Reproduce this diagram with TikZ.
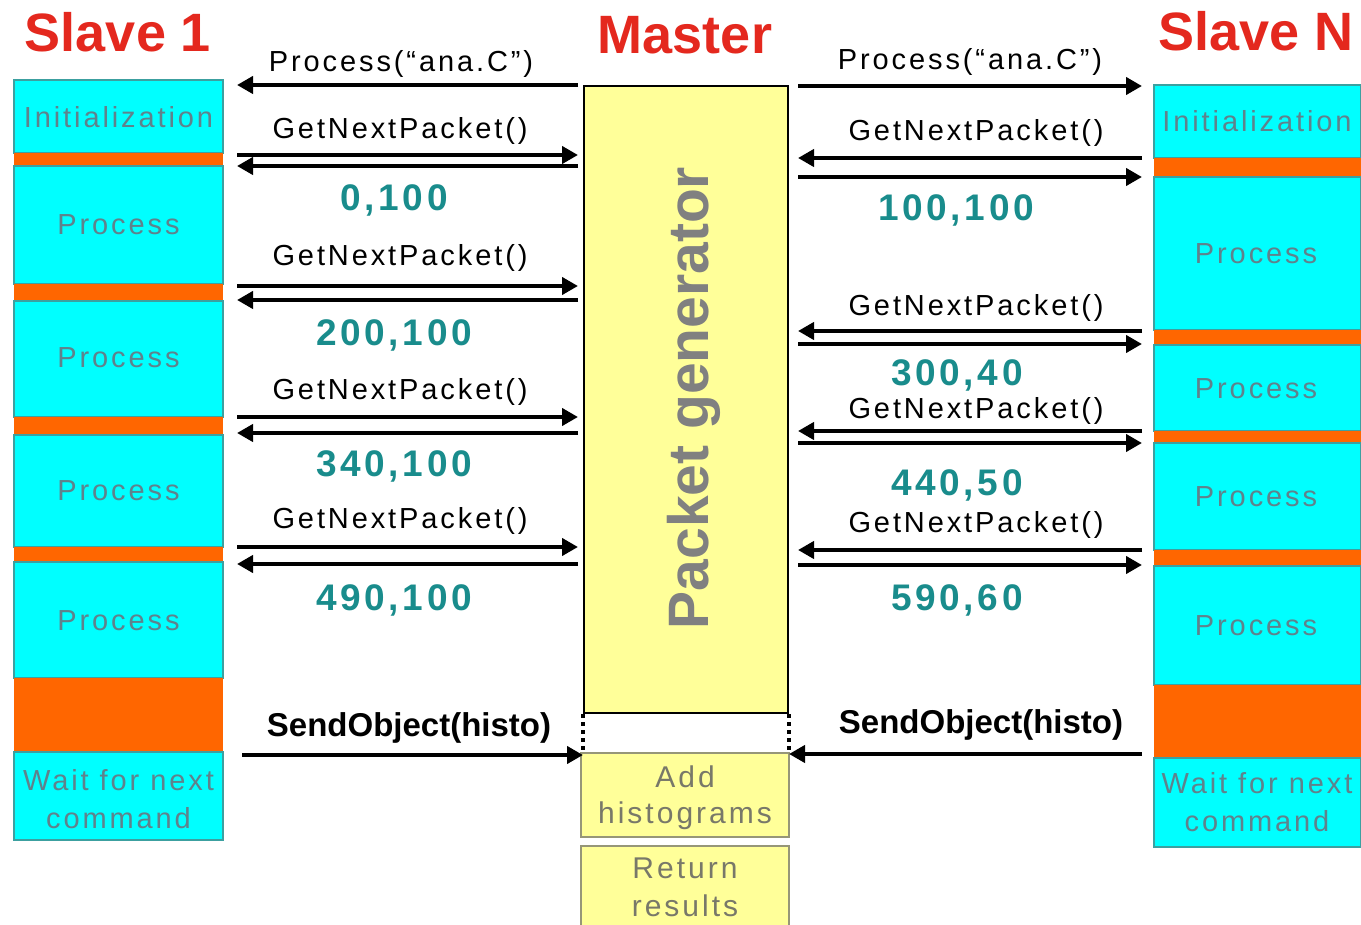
\documentclass[tikz,border=0pt]{standalone}
\usepackage{fontspec}
\setmainfont{Liberation Sans}
\newfontfamily\arrfont[LetterSpace=10]{Liberation Sans}
\newfontfamily\blkfont[LetterSpace=10]{Liberation Sans}
\usetikzlibrary{arrows.meta}
\definecolor{cyanfill}{RGB}{0,255,255}
\definecolor{cyanline}{RGB}{60,160,160}
\definecolor{orangefill}{RGB}{255,102,0}
\definecolor{yellowfill}{RGB}{255,255,153}
\definecolor{titlered}{RGB}{228,40,30}
\definecolor{numteal}{RGB}{25,140,140}
\definecolor{blktext}{RGB}{95,130,140}
\definecolor{pgray}{RGB}{128,128,128}
\definecolor{ygray}{RGB}{120,120,105}
\definecolor{boxline}{RGB}{150,150,120}
\begin{document}
\begin{tikzpicture}[x=0.5pt,y=-0.5pt,
  titlelbl/.style={font=\fontsize{27}{30}\selectfont\bfseries, text=titlered, anchor=base, inner sep=0},
  msg/.style={font=\arrfont\fontsize{14.5}{16}\selectfont, anchor=base, inner sep=0},
  num/.style={font=\blkfont\bfseries\fontsize{18.5}{20}\selectfont, text=numteal, anchor=base, inner sep=0},
  blktxt/.style={font=\blkfont\fontsize{14.5}{19}\selectfont, text=blktext, anchor=base, inner sep=0},
  waittxt/.style={font=\blkfont\fontsize{14.5}{19}\selectfont, text=blktext, align=center, inner sep=0},
  ytxt/.style={font=\blkfont\fontsize{15}{18}\selectfont, text=ygray, align=center, inner sep=0},
  cyanblk/.style={fill=cyanfill, draw=cyanline, line width=0.6pt},
  orangeblk/.style={fill=orangefill},
  arr/.style={line width=2pt, -{Triangle[length=8pt,width=8.5pt]}},
  sendlbl/.style={font=\bfseries\fontsize{16.5}{18}\selectfont, anchor=base, inner sep=0},
  dots/.style={line width=2pt, dash pattern=on 2pt off 2pt},
  ybox/.style={fill=yellowfill, draw=boxline, line width=0.8pt},
]
\useasboundingbox[fill=white] (0,0) rectangle (1361,925);

% titles
\node[titlelbl] (t1) at (118,52) {Slave 1};
\node[titlelbl] (tm) at (685,54) {Master};
\node[titlelbl] (tn) at (1256,51) {Slave N};

% left column (Slave 1)
\draw[cyanblk] (14,80) rectangle (223,153);
\fill[orangeblk] (14,153) rectangle (223,166);
\draw[cyanblk] (14,166) rectangle (223,284);
\fill[orangeblk] (14,284) rectangle (223,301);
\draw[cyanblk] (14,301) rectangle (223,417);
\fill[orangeblk] (14,417) rectangle (223,435);
\draw[cyanblk] (14,435) rectangle (223,547);
\fill[orangeblk] (14,547) rectangle (223,562);
\draw[cyanblk] (14,562) rectangle (223,678);
\fill[orangeblk] (14,678) rectangle (223,752);
\draw[cyanblk] (14,752) rectangle (223,840);
\node[blktxt] (s1init) at (118.5,127.5) {Initialization};
\node[blktxt] (s1p1) at (118.5,234.5) {Process};
\node[blktxt] (s1p2) at (118.5,367.5) {Process};
\node[blktxt] (s1p3) at (118.5,500.5) {Process};
\node[blktxt] (s1p4) at (118.5,630.5) {Process};
\node[waittxt] (s1wait) at (118.5,799) {Wait for next\\command};

% right column (Slave N)
\draw[cyanblk] (1154,85) rectangle (1361,158);
\fill[orangeblk] (1154,158) rectangle (1361,177);
\draw[cyanblk] (1154,177) rectangle (1361,330);
\fill[orangeblk] (1154,330) rectangle (1361,345);
\draw[cyanblk] (1154,345) rectangle (1361,431);
\fill[orangeblk] (1154,431) rectangle (1361,443);
\draw[cyanblk] (1154,443) rectangle (1361,550);
\fill[orangeblk] (1154,550) rectangle (1361,566);
\draw[cyanblk] (1154,566) rectangle (1361,685);
\fill[orangeblk] (1154,685) rectangle (1361,758);
\draw[cyanblk] (1154,758) rectangle (1361,847);
\node[blktxt] (sninit) at (1257,132) {Initialization};
\node[blktxt] (snp1) at (1256,264) {Process};
\node[blktxt] (snp2) at (1256,398.5) {Process};
\node[blktxt] (snp3) at (1256,506.5) {Process};
\node[blktxt] (snp4) at (1256,635.5) {Process};
\node[waittxt] (snwait) at (1257,802) {Wait for next\\command};

% master
\node[draw=black, fill=yellowfill, line width=1pt, minimum width=102pt, minimum height=313.5pt,
      anchor=north west, inner sep=0] (master) at (583,85) {};
\node[font=\bfseries\fontsize{28.5}{30}\selectfont, text=pgray, rotate=90, anchor=base, inner sep=0]
      (pg) at (708,398) {Packet generator};
\draw[dots] (master.south west) -- (master.south west |- 0,752);
\draw[dots] (master.south east) -- (master.south east |- 0,752);

\draw[ybox] (581,753) rectangle (789,837);
\node[ytxt] (addh) at (685,798) {Add\\histograms};
\fill[yellowfill] (581,846) rectangle (789,925);
\draw[boxline, line width=0.8pt] (581,925) -- (581,846) -- (789,846) -- (789,925);
\node[ytxt, font=\blkfont\fontsize{15}{19}\selectfont] (retr) at (685,887) {Return\\results};

% arrow end coordinates
\coordinate (la) at (237,0);
\coordinate (lb) at (578,0);
\coordinate (ra) at (798,0);
\coordinate (rb) at (1142,0);

% left messages
\node[msg] (lproc) at (401,71.5) {Process(“ana.C”)};
\draw[arr] (lb |- 0,85) -- (la |- 0,85);
\node[msg] (lg1) at (400,139) {GetNextPacket()};
\draw[arr] (la |- 0,155) -- (lb |- 0,155);
\draw[arr] (lb |- 0,166) -- (la |- 0,166);
\node[num] (ln1) at (394,211) {0,100};
\node[msg] (lg2) at (400,266) {GetNextPacket()};
\draw[arr] (la |- 0,286) -- (lb |- 0,286);
\draw[arr] (lb |- 0,300) -- (la |- 0,300);
\node[num] (ln2) at (394,346) {200,100};
\node[msg] (lg3) at (400,400) {GetNextPacket()};
\draw[arr] (la |- 0,417) -- (lb |- 0,417);
\draw[arr] (lb |- 0,433) -- (la |- 0,433);
\node[num] (ln3) at (394,476) {340,100};
\node[msg] (lg4) at (400,528) {GetNextPacket()};
\draw[arr] (la |- 0,547) -- (lb |- 0,547);
\draw[arr] (lb |- 0,564) -- (la |- 0,564);
\node[num] (ln4) at (394,610) {490,100};
\node[sendlbl] (lsend) at (409,736) {SendObject(histo)};
\draw[arr] (242,755) -- (master.south west |- 0,755);

% right messages
\node[msg] (rproc) at (970,70) {Process(“ana.C”)};
\draw[arr] (ra |- 0,86) -- (rb |- 0,86);
\node[msg] (rg1) at (976,141) {GetNextPacket()};
\draw[arr] (rb |- 0,158) -- (ra |- 0,158);
\draw[arr] (ra |- 0,177) -- (rb |- 0,177);
\node[num] (rn1) at (956,221) {100,100};
\node[msg] (rg2) at (976,316) {GetNextPacket()};
\draw[arr] (rb |- 0,331) -- (ra |- 0,331);
\draw[arr] (ra |- 0,344) -- (rb |- 0,344);
\node[num] (rn2) at (957,386) {300,40};
\node[msg] (rg3) at (976,418) {GetNextPacket()};
\draw[arr] (rb |- 0,431) -- (ra |- 0,431);
\draw[arr] (ra |- 0,443) -- (rb |- 0,443);
\node[num] (rn3) at (957,495) {440,50};
\node[msg] (rg4) at (976,532) {GetNextPacket()};
\draw[arr] (rb |- 0,550) -- (ra |- 0,550);
\draw[arr] (ra |- 0,565) -- (rb |- 0,565);
\node[num] (rn4) at (957,610) {590,60};
\node[sendlbl] (rsend) at (981,733) {SendObject(histo)};
\draw[arr] (rb |- 0,754) -- (master.south east |- 0,754);
\end{tikzpicture}
\end{document}
